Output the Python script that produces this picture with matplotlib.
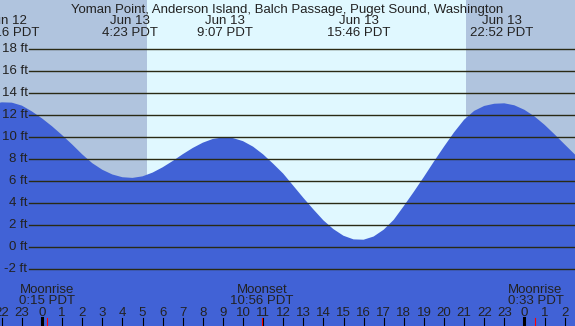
import numpy as np
import matplotlib
matplotlib.use("Agg")
import matplotlib.pyplot as plt

# tide heights (ft), read every half hour, hours counted from Jun 13 0:00 PDT
hours = np.arange(-2.5, 27.01, 0.5)
heights = [
    13.0, 13.18, 13.15, 12.88, 12.35, 11.72, 11.0, 10.2, 9.35, 8.45,
    7.65, 7.05, 6.62, 6.37, 6.31, 6.45, 6.79, 7.27, 7.84, 8.46,
    9.03, 9.51, 9.85, 9.99, 9.93, 9.65, 9.15, 8.45, 7.6, 6.7,
    5.6, 4.5, 3.45, 2.45, 1.65, 1.05, 0.72, 0.69, 0.98, 1.6,
    2.5, 3.75, 5.05, 6.4, 7.8, 9.15, 10.45, 11.6, 12.4, 12.85,
    13.05, 13.09, 12.91, 12.5, 11.9, 11.14, 10.27, 9.36, 8.46, 7.64,
]

title = "Yoman Point, Anderson Island, Balch Passage, Puget Sound, Washington"

# high / low tide labels along the top
extreme_hours = [-1.73, 4.383, 9.117, 15.767, 22.867]
extreme_dates = ["Jun 12", "Jun 13", "Jun 13", "Jun 13", "Jun 13"]
extreme_times = ["22:16 PDT", "4:23 PDT", "9:07 PDT", "15:46 PDT", "22:52 PDT"]

sunrise = 5.22
sunset = 21.09

moon_hours = [0.25, 10.933, 24.55]
moon_names = ["Moonrise", "Moonset", "Moonrise"]
moon_times = ["0:15 PDT", "10:56 PDT", "0:33 PDT"]

grid_levels = [-2, 0, 2, 4, 6, 8, 10, 12, 14, 16, 18]

NIGHT = "#b0c4de"
DAY = "#e0f8ff"
WATER = "#4162d6"
TEXT = "#222222"
GRID = "#2a2a14"
FS = 9.5

# pixel layout of the original: 20.1 px per hour, 11 px per foot
W, H = 575, 326
px_h, x0 = 20.1, 42.0
px_ft, y0 = 11.0, 247.3
xmin, xmax = -x0 / px_h, (W - x0) / px_h
ymin, ymax = (y0 - H) / px_ft, y0 / px_ft

plt.rcParams["font.family"] = ["Liberation Sans", "DejaVu Sans"]
fig = plt.figure(figsize=(W / 100, H / 100), dpi=100)
ax = fig.add_axes([0, 0, 1, 1])
ax.set_xlim(xmin, xmax)
ax.set_ylim(ymin, ymax)
ax.axis("off")

ax.axvspan(xmin, sunrise, color=NIGHT, lw=0)
ax.axvspan(sunrise, sunset, color=DAY, lw=0)
ax.axvspan(sunset, xmax, color=NIGHT, lw=0)

ax.fill_between(hours, heights, ymin - 1, color=WATER, lw=0)

def py(p):
    # pixel row from top -> feet
    return (y0 - p) / px_ft

grid_x0 = (29 - x0) / px_h
for lv in grid_levels:
    ax.plot([grid_x0, xmax], [lv, lv], color=GRID, lw=1.0)
    ax.text(grid_x0 - 1.5 / px_h, lv, f"{lv} ft", ha="right", va="center",
            fontsize=FS, color=TEXT)

ax.text((xmin + xmax) / 2, py(12.5), title, ha="center", va="baseline",
        fontsize=FS, color=TEXT)
for h, d, t in zip(extreme_hours, extreme_dates, extreme_times):
    ax.text(h, py(24.5), d, ha="center", va="baseline", fontsize=FS, color=TEXT)
    ax.text(h, py(36.3), t, ha="center", va="baseline", fontsize=FS, color=TEXT)

for h, n, t in zip(moon_hours, moon_names, moon_times):
    ax.text(h, py(292.8), n, ha="center", va="baseline", fontsize=FS, color=TEXT)
    ax.text(h, py(304.3), t, ha="center", va="baseline", fontsize=FS, color=TEXT)
    ax.plot([h, h], [py(318), ymin], color="red", lw=0.8)

for hr in range(-2, 27):
    ax.text(hr, py(316), str(hr % 24), ha="center", va="baseline",
            fontsize=FS, color=TEXT)
    ax.plot([hr, hr], [py(318), ymin], color="black",
            lw=2.2 if hr % 24 == 0 else 0.8)

fig.savefig("out.png", dpi=100)
